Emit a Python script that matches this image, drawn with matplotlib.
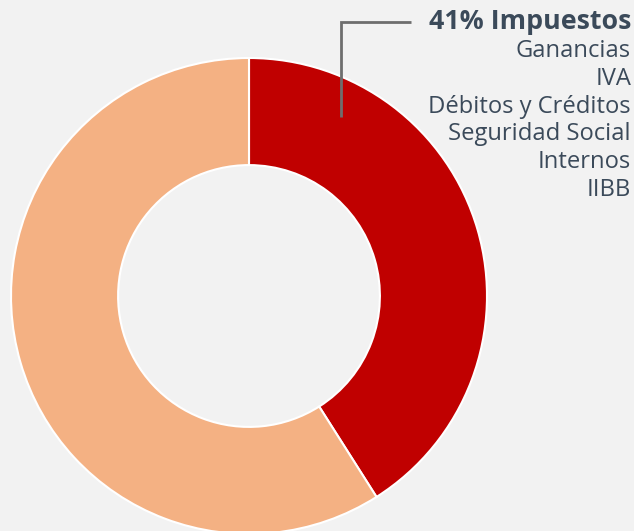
import matplotlib
matplotlib.use("Agg")
import matplotlib.pyplot as plt

categories = ["Impuestos", "Resto"]
values = [41, 59]
colors = ["#C00000", "#F4B183"]
title_label = "41% Impuestos"
items = ["Ganancias", "IVA", "Débitos y Créditos", "Seguridad Social", "Internos", "IIBB"]

W, H = 634, 531
fig = plt.figure(figsize=(W / 100, H / 100), dpi=100, facecolor="#F2F2F2")
ax = fig.add_axes([0, 0, 1, 1])
ax.set_facecolor("#F2F2F2")

def Y(py):
    return H - py

ax.pie(values, colors=colors, startangle=90, counterclock=False,
       center=(249, Y(296)), radius=238, frame=True,
       wedgeprops=dict(width=238 * 0.45, edgecolor="white", linewidth=1.5))
ax.set_xlim(0, W)
ax.set_ylim(0, H)
ax.set_aspect("equal")
ax.axis("off")

# leader line
ax.plot([341, 341, 411], [Y(117), Y(22), Y(22)], color="#6E6E6E", lw=2,
        solid_capstyle="butt", solid_joinstyle="miter")

tc = "#3B4A5A"
ax.text(631, Y(22), title_label, ha="right", va="center", fontsize=19.3,
        fontweight="bold", color=tc, family="Open Sans")
for i, it in enumerate(items):
    ax.text(631, Y(51 + i * 27.8), it, ha="right", va="center", fontsize=17.1,
            color=tc, family="Open Sans")

fig.savefig("out.png", dpi=100, facecolor=fig.get_facecolor())
